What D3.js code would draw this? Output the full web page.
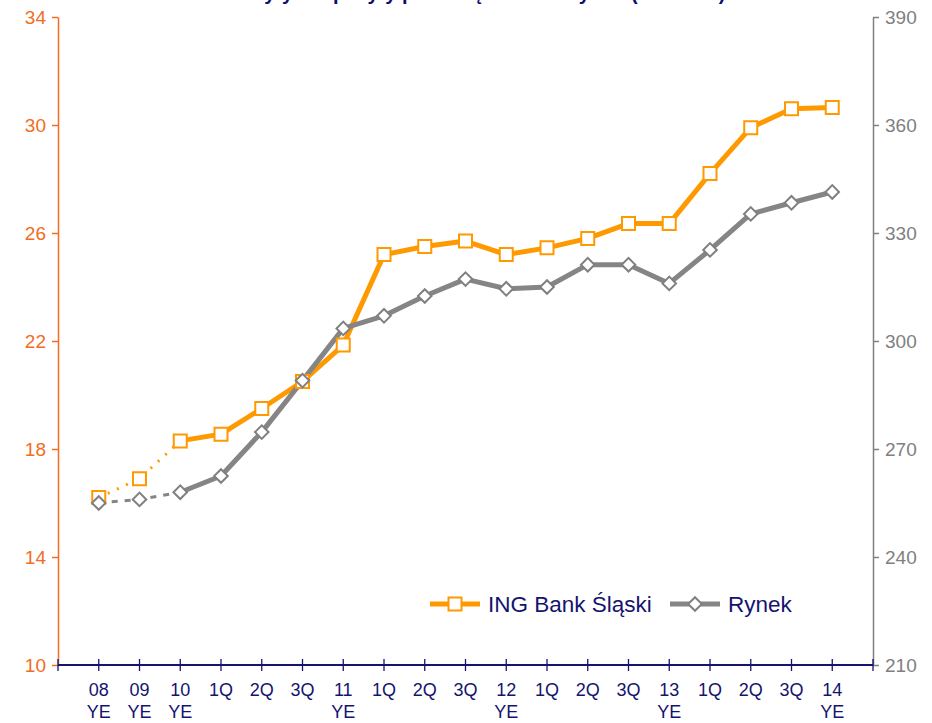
<!DOCTYPE html>
<html>
<head>
<meta charset="UTF-8">
<title>ING Bank Śląski vs Rynek</title>
<script src="https://cdnjs.cloudflare.com/ajax/libs/d3/7.8.5/d3.min.js"></script>
<style>
  body { margin: 0; background: #fff; }
  svg { display: block; font-family: "Liberation Sans", Arial, sans-serif; }
</style>
</head>
<body>
<svg id="chart" width="932" height="723"></svg>
<script>
// categories (two-line labels)
var periods = ['08|YE', '09|YE', '10|YE', '1Q', '2Q', '3Q', '11|YE', '1Q', '2Q', '3Q', '12|YE',
  '1Q', '2Q', '3Q', '13|YE', '1Q', '2Q', '3Q', '14|YE'];
// ING Bank Śląski (left axis)
var ingValues = [16.2, 16.9, 18.3, 18.55, 19.5, 20.5, 21.85, 25.2, 25.5, 25.7, 25.2,
  25.45, 25.8, 26.35, 26.35, 28.2, 29.9, 30.6, 30.65];
// Rynek (right axis)
var marketValues = [255, 256, 258, 262.5, 274.7, 289, 303.5, 307, 312.5, 317.2, 314.5,
  315, 321.2, 321.2, 316, 325.3, 335.3, 338.4, 341.4];
var leftTicks = [10, 14, 18, 22, 26, 30, 34];
var rightTicks = [210, 240, 270, 300, 330, 360, 390];
var dottedUpTo = 2; // first segments drawn dotted

var margin = {left: 58, right: 59, top: 17, bottom: 58};
var W = 932, H = 723;
var svg = d3.select('#chart');

// title, cut off by the top edge as in the source
svg.append('text')
  .attr('x', 472).attr('y', 0)
  .attr('text-anchor', 'middle')
  .attr('fill', '#0d0d6b')
  .attr('font-weight', 'bold')
  .attr('font-size', 20)
  .text('Kredyty i depozyty przedsiębiorstw i rynku (mld PLN)');

var idx = d3.range(periods.length);
var x = d3.scalePoint().domain(idx).range([margin.left, W - margin.right]).padding(1);
var yL = d3.scaleLinear().domain([10, 34]).range([H - margin.bottom, margin.top]);
var yR = d3.scaleLinear().domain([210, 390]).range([H - margin.bottom, margin.top]);

// left axis
var gL = svg.append('g').attr('transform', 'translate(' + margin.left + ',0)')
  .call(d3.axisLeft(yL).tickValues(leftTicks).tickSize(6).tickPadding(6).tickSizeOuter(0));
gL.select('.domain').attr('stroke', '#f36c21').attr('stroke-width', 1.5);
gL.selectAll('.tick line').attr('stroke', '#f36c21').attr('stroke-width', 1.5);
gL.selectAll('.tick text').attr('fill', '#f36c21').attr('font-size', 19).attr('font-family', '"Liberation Sans", Arial, sans-serif');

// right axis
var gR = svg.append('g').attr('transform', 'translate(' + (W - margin.right) + ',0)')
  .call(d3.axisRight(yR).tickValues(rightTicks).tickSize(6).tickPadding(6).tickSizeOuter(0));
gR.select('.domain').attr('stroke', '#808080').attr('stroke-width', 1.5);
gR.selectAll('.tick line').attr('stroke', '#808080').attr('stroke-width', 1.5);
gR.selectAll('.tick text').attr('fill', '#808080').attr('font-size', 19).attr('font-family', '"Liberation Sans", Arial, sans-serif');

// bottom axis: ticks on every step, including both ends
var step = x.step();
var tickPos = d3.range(periods.length + 2).map(function(i) { return margin.left + i * step; });
var gB = svg.append('g');
gB.append('line')
  .attr('x1', margin.left).attr('x2', W - margin.right)
  .attr('y1', yL(10)).attr('y2', yL(10))
  .attr('stroke', '#14146e').attr('stroke-width', 2);
gB.selectAll('.xt').data(tickPos).enter().append('line')
  .attr('x1', function(d) { return d; }).attr('x2', function(d) { return d; })
  .attr('y1', yL(10) - 6).attr('y2', yL(10) + 6)
  .attr('stroke', '#14146e').attr('stroke-width', 1.3);
var labels = gB.selectAll('.xl').data(idx).enter().append('text')
  .attr('x', function(i) { return x(i); })
  .attr('y', yL(10) + 31)
  .attr('text-anchor', 'middle')
  .attr('fill', '#14146e')
  .attr('font-size', 18);
labels.each(function(i) {
  var parts = periods[i].split('|');
  var t = d3.select(this);
  t.append('tspan').attr('x', x(i)).text(parts[0]);
  if (parts[1]) t.append('tspan').attr('x', x(i)).attr('dy', 22).text(parts[1]);
});

function drawSeries(values, y, color, dash, dashWidth) {
  var line = d3.line().x(function(d) { return x(d.i); }).y(function(d) { return y(d.v); });
  var pts = values.map(function(v, i) { return {i: i, v: v}; });
  svg.append('path').datum(pts.slice(0, dottedUpTo + 1))
    .attr('d', line).attr('fill', 'none').attr('stroke', color)
    .attr('stroke-width', dashWidth).attr('stroke-dasharray', dash);
  svg.append('path').datum(pts.slice(dottedUpTo))
    .attr('d', line).attr('fill', 'none').attr('stroke', color)
    .attr('stroke-width', 5).attr('stroke-linejoin', 'round');
  return pts;
}

var ingPts = drawSeries(ingValues, yL, '#ff9900', '2,8', 3);
var mktPts = drawSeries(marketValues, yR, '#858585', '6,7', 3);

var sq = d3.symbol().type(d3.symbolSquare).size(169);
var dm = d3.symbol().type(d3.symbolSquare).size(92);

svg.append('g').selectAll('path').data(ingPts).enter().append('path')
  .attr('d', sq)
  .attr('transform', function(d) { return 'translate(' + x(d.i) + ',' + yL(d.v) + ')'; })
  .attr('fill', '#fff').attr('stroke', '#ff9900').attr('stroke-width', 2);
svg.append('g').selectAll('path').data(mktPts).enter().append('path')
  .attr('d', dm)
  .attr('transform', function(d) { return 'translate(' + x(d.i) + ',' + yR(d.v) + ') rotate(45)'; })
  .attr('fill', '#fff').attr('stroke', '#808080').attr('stroke-width', 2);

// legend
var lg = svg.append('g');
var legendItems = [
  {name: 'ING Bank Śląski', color: '#ff9900', x: 430, sym: sq, rot: 0, edge: '#ff9900'},
  {name: 'Rynek', color: '#858585', x: 670, sym: dm, rot: 45, edge: '#808080'}
];
legendItems.forEach(function(it) {
  var yy = 604;
  lg.append('line').attr('x1', it.x).attr('x2', it.x + 50).attr('y1', yy).attr('y2', yy)
    .attr('stroke', it.color).attr('stroke-width', 5);
  lg.append('path').attr('d', it.sym)
    .attr('transform', 'translate(' + (it.x + 25) + ',' + yy + ') rotate(' + it.rot + ')')
    .attr('fill', '#fff').attr('stroke', it.edge).attr('stroke-width', 2);
  lg.append('text').attr('x', it.x + 58).attr('y', yy + 8)
    .attr('fill', '#14146e').attr('font-size', 22.5).text(it.name);
});
</script>
</body>
</html>
